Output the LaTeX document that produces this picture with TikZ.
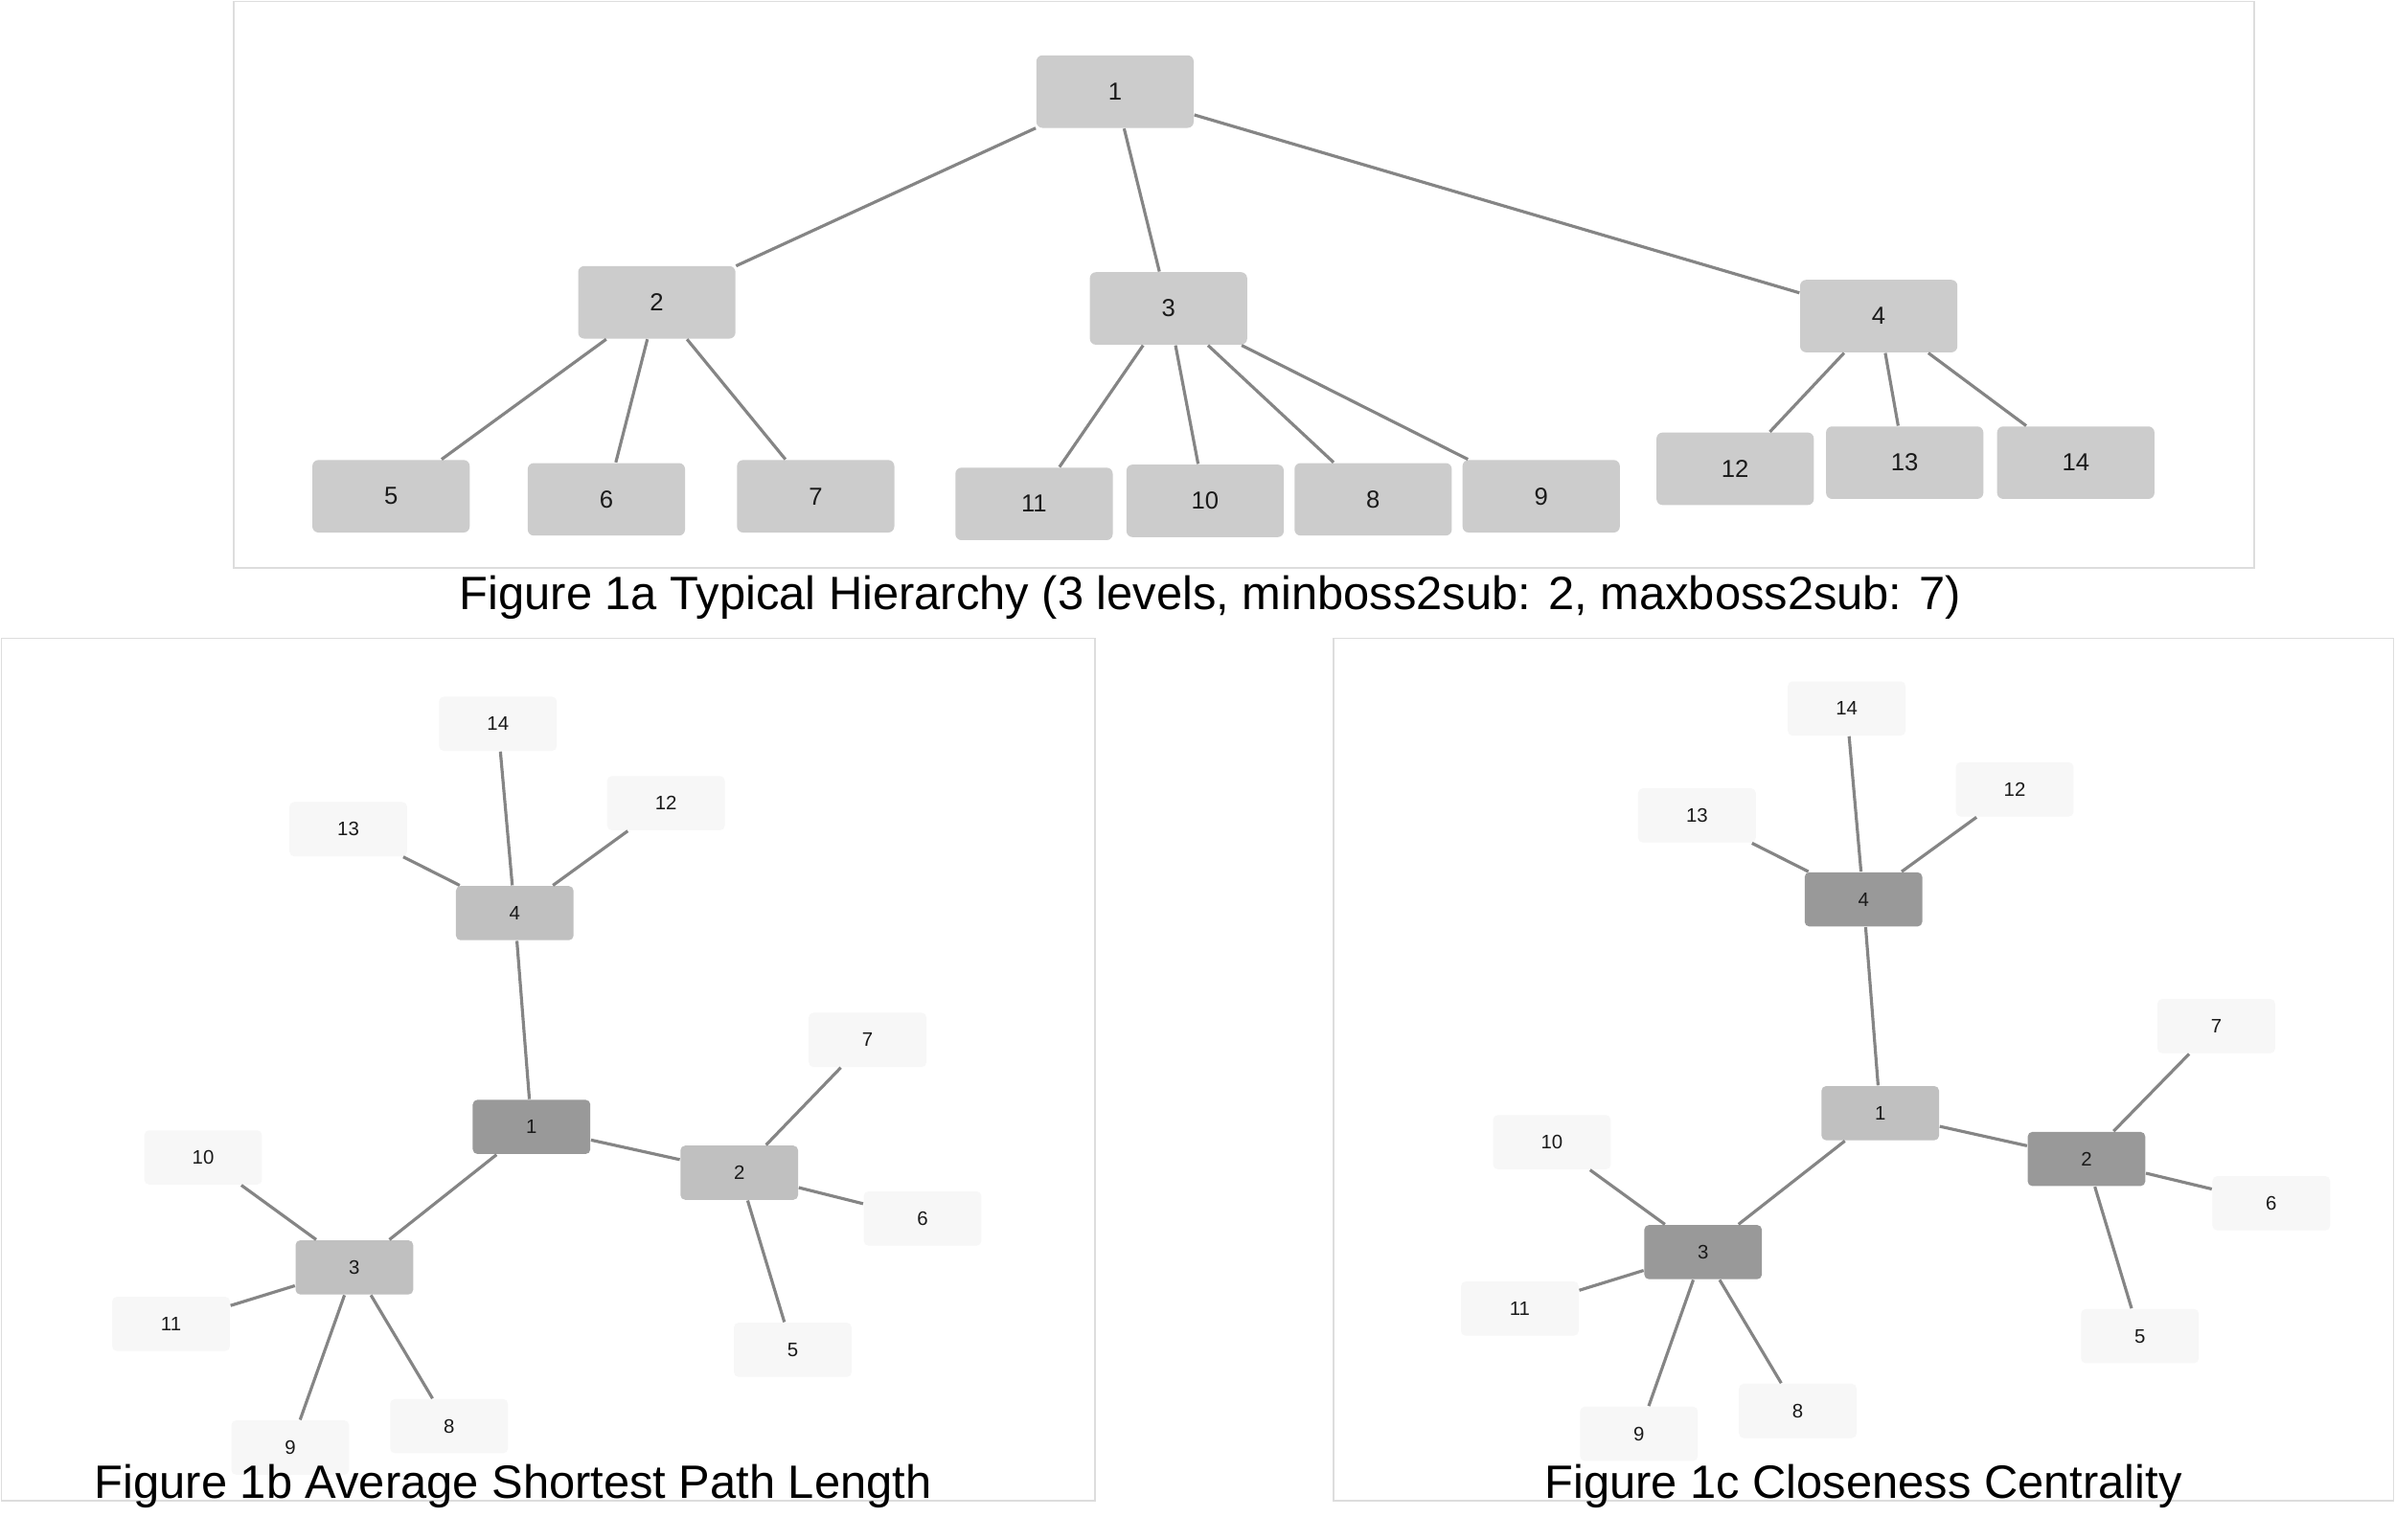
\documentclass[tikz,border=0pt]{standalone}
\usepackage{fontspec}
\setmainfont{Liberation Sans}
\definecolor{edgec}{HTML}{858585}
\definecolor{framec}{HTML}{DDDDDD}
\definecolor{topfill}{HTML}{CCCCCC}
\definecolor{leaffill}{HTML}{F7F7F7}
\definecolor{midfill}{HTML}{C0C0C0}
\definecolor{darkfill}{HTML}{999999}
\definecolor{textc}{HTML}{1A1A1A}
\begin{document}
\begin{tikzpicture}[x=0.015944cm,y=-0.015944cm,
  big/.style={rectangle, rounded corners=1.8pt, fill=topfill, minimum width=1.642cm, minimum height=0.757cm, inner sep=0pt, text=textc, font=\fontsize{7.3}{8}\selectfont},
  small/.style={rectangle, rounded corners=1.4pt, minimum width=1.228cm, minimum height=0.566cm, inner sep=0pt, text=textc, font=\fontsize{5.8}{7}\selectfont},
  leaf/.style={small, fill=leaffill},
  mid/.style={small, fill=midfill},
  dark/.style={small, fill=darkfill},
  link/.style={draw=edgec, line width=0.9pt},
  frame/.style={draw=framec, line width=0.5pt},
  caption/.style={anchor=base, inner sep=0pt, text=black, font=\fontsize{13.9}{16}\selectfont}]
\useasboundingbox (0,0) rectangle (1568,1008);
\fill[white] (0,0) rectangle (1568,1008);

% frames
\draw[frame] (153,1) rectangle (1476,372);
\draw[frame] (1,418) rectangle (717,983);
\draw[frame] (873,418) rectangle (1567,983);

% ---------- Figure 1a ----------
\node[big] (a1) at (730,60) {1};
\node[big] (a2) at (430,198) {2};
\node[big] (a3) at (765,202) {3};
\node[big] (a4) at (1230,207) {4};
\node[big] (a5) at (256,325) {5};
\node[big] (a6) at (397,327) {6};
\node[big] (a7) at (534,325) {7};
\node[big] (a11) at (677,330) {11};
\node[big] (a10) at (789,328) {10};
\node[big] (a8) at (899,327) {8};
\node[big] (a9) at (1009,325) {9};
\node[big] (a12) at (1136,307) {12};
\node[big] (a13) at (1247,303) {13};
\node[big] (a14) at (1359,303) {14};
\foreach \p/\c in {a1/a2,a1/a3,a1/a4,a2/a5,a2/a6,a2/a7,a3/a11,a3/a10,a3/a8,a3/a9,a4/a12,a4/a13,a4/a14}
  \draw[link] (\p) -- (\c);
\node[caption] (capa) at (792.5,399) {Figure 1a Typical Hierarchy (3 levels, minboss2sub: 2, maxboss2sub: 7)};

% ---------- Figure 1b ----------
\node[leaf] (b14) at (326,474) {14};
\node[leaf] (b12) at (436,526) {12};
\node[leaf] (b13) at (228,543) {13};
\node[mid]  (b4)  at (337,598) {4};
\node[leaf] (b7)  at (568,681) {7};
\node[dark] (b1)  at (348,738) {1};
\node[leaf] (b10) at (133,758) {10};
\node[mid]  (b2)  at (484,768) {2};
\node[leaf] (b6)  at (604,798) {6};
\node[mid]  (b3)  at (232,830) {3};
\node[leaf] (b11) at (112,867) {11};
\node[leaf] (b5)  at (519,884) {5};
\node[leaf] (b8)  at (294,934) {8};
\node[leaf] (b9)  at (190,948) {9};
\foreach \p/\c in {b1/b2,b1/b3,b1/b4,b2/b5,b2/b6,b2/b7,b3/b8,b3/b9,b3/b10,b3/b11,b4/b12,b4/b13,b4/b14}
  \draw[link] (\p) -- (\c);
\node[caption] (capb) at (336,981) {Figure 1b Average Shortest Path Length};

% ---------- Figure 1c ----------
\node[leaf] (c14) at (1209,464) {14};
\node[leaf] (c12) at (1319,517) {12};
\node[leaf] (c13) at (1111,534) {13};
\node[dark] (c4)  at (1220,589) {4};
\node[leaf] (c7)  at (1451,672) {7};
\node[mid]  (c1)  at (1231,729) {1};
\node[leaf] (c10) at (1016,748) {10};
\node[dark] (c2)  at (1366,759) {2};
\node[leaf] (c6)  at (1487,788) {6};
\node[dark] (c3)  at (1115,820) {3};
\node[leaf] (c11) at (995,857) {11};
\node[leaf] (c5)  at (1401,875) {5};
\node[leaf] (c8)  at (1177,924) {8};
\node[leaf] (c9)  at (1073,939) {9};
\foreach \p/\c in {c1/c2,c1/c3,c1/c4,c2/c5,c2/c6,c2/c7,c3/c8,c3/c9,c3/c10,c3/c11,c4/c12,c4/c13,c4/c14}
  \draw[link] (\p) -- (\c);
\node[caption] (capc) at (1220,981) {Figure 1c Closeness Centrality};
\end{tikzpicture}
\end{document}
